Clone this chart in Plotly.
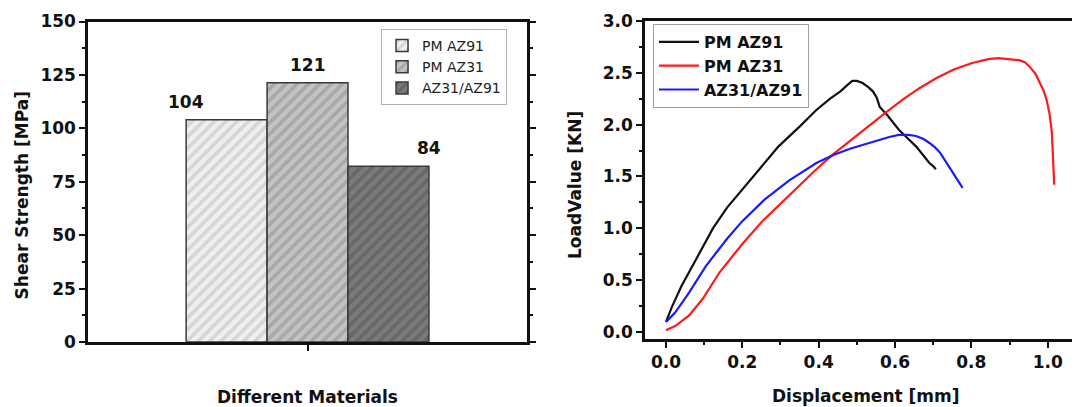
import plotly.graph_objects as go

# ---------------- data ----------------
materials = ["PM AZ91", "PM AZ31", "AZ31/AZ91"]
shear_strength = [104.0, 121.3, 82.2]
shear_labels = ["104", "121", "84"]
category = ["Different Materials"]

az91_x = [0.0, 0.015, 0.04, 0.069, 0.1, 0.123, 0.16, 0.2, 0.25, 0.295, 0.35, 0.394, 0.43,
          0.457, 0.475, 0.488, 0.5, 0.515, 0.53, 0.542, 0.552, 0.56, 0.58, 0.61, 0.635,
          0.655, 0.675, 0.69, 0.7, 0.707]
az91_y = [0.1, 0.24, 0.44, 0.64, 0.85, 1.0, 1.2, 1.375, 1.6, 1.79, 1.98, 2.14, 2.25,
          2.32, 2.38, 2.42, 2.42, 2.40, 2.36, 2.32, 2.26, 2.17, 2.09, 1.95, 1.86,
          1.79, 1.70, 1.63, 1.60, 1.57]

az31_x = [0.0, 0.024, 0.06, 0.096, 0.141, 0.2, 0.25, 0.304, 0.35, 0.394, 0.44, 0.484, 0.53,
          0.574, 0.62, 0.664, 0.71, 0.754, 0.8, 0.844, 0.871, 0.9, 0.925, 0.94, 0.952,
          0.968, 0.98, 0.99, 0.997, 1.005, 1.011, 1.015, 1.017]
az31_y = [0.02, 0.06, 0.16, 0.32, 0.58, 0.85, 1.06, 1.25, 1.42, 1.57, 1.72, 1.85, 1.98,
          2.11, 2.24, 2.35, 2.45, 2.53, 2.59, 2.63, 2.64, 2.63, 2.62, 2.60, 2.56,
          2.49, 2.40, 2.32, 2.24, 2.10, 1.92, 1.66, 1.42]

mix_x = [0.0, 0.024, 0.06, 0.105, 0.16, 0.2, 0.259, 0.322, 0.394, 0.44, 0.484, 0.52, 0.556,
         0.585, 0.61, 0.635, 0.655, 0.675, 0.691, 0.705, 0.718, 0.732, 0.745, 0.762, 0.777]
mix_y = [0.1, 0.19, 0.38, 0.64, 0.9, 1.07, 1.28, 1.46, 1.63, 1.71, 1.77, 1.81, 1.85,
         1.88, 1.90, 1.90, 1.89, 1.86, 1.82, 1.78, 1.73, 1.65, 1.57, 1.48, 1.39]

curve_names = ["PM AZ91", "PM AZ31", "AZ31/AZ91"]

# ---------------- styles ----------------
FONT = "DejaVu Sans"
bar_bg = ["#efefef", "#c3c3c3", "#7a7a7a"]
bar_fg = ["#bcbcbc", "#8e8e8e", "#545454"]
line_colors = ["#111111", "#ff1a1a", "#1a1aff"]
BARGAP = 0.447

fig = go.Figure()

for name, val, bg, fg in zip(materials, shear_strength, bar_bg, bar_fg):
    fig.add_trace(go.Bar(
        x=category, y=[val], name=name, xaxis="x", yaxis="y",
        marker=dict(color=bg, line=dict(color="#3a3a3a", width=1.5),
                    pattern=dict(shape="/", fgcolor=fg, size=8, solidity=0.45)),
        legend="legend",
    ))

for name, xs, ys, c in zip(curve_names, [az91_x, az31_x, mix_x],
                           [az91_y, az31_y, mix_y], line_colors):
    fig.add_trace(go.Scatter(
        x=xs, y=ys, name=name, mode="lines", xaxis="x2", yaxis="y2",
        line=dict(color=c, width=2.2), legend="legend2",
    ))

# bar value labels (positioned relative to bar geometry)
w = (1 - BARGAP) / len(materials)
label_x = [-1.5 * w, 0.0, 1.5 * w]
annotations = []
for lx, val, txt in zip(label_x, shear_strength, shear_labels):
    annotations.append(dict(
        x=lx, y=val + 8.5, xref="x", yref="y", text=txt, showarrow=False,
        xanchor="center", yanchor="middle",
        font=dict(family=FONT, size=17, color="#111", weight="bold")))

title_font = dict(family=FONT, size=17, color="#111", weight="bold")
annotations += [
    dict(x=0.0133, y=0.5405, xref="paper", yref="paper", text="Shear Strength [MPa]",
         textangle=-90, showarrow=False, font=title_font, xanchor="center", yanchor="middle"),
    dict(x=0.2769, y=0.0442, xref="paper", yref="paper", text="Different Materials",
         showarrow=False, font=title_font, xanchor="center", yanchor="middle"),
    dict(x=0.525, y=0.5651, xref="paper", yref="paper", text="LoadValue [KN]",
         textangle=-90, showarrow=False, font=title_font, xanchor="center", yanchor="middle"),
    dict(x=0.7944, y=0.0467, xref="paper", yref="paper", text="Displacement [mm]",
         showarrow=False, font=title_font, xanchor="center", yanchor="middle"),
]

tick_font = dict(family=FONT, size=17, color="#111", weight="bold")
axis_common = dict(showline=True, linecolor="#111", linewidth=2.5, showgrid=False,
                   zeroline=False, ticks="outside", ticklen=6, tickwidth=2,
                   tickcolor="#111", tickfont=tick_font, automargin=False)

fig.update_layout(
    width=1080, height=407,
    margin=dict(l=0, r=0, t=0, b=0, pad=0, autoexpand=False),
    paper_bgcolor="white", plot_bgcolor="white",
    barmode="group", bargap=BARGAP, bargroupgap=0,
    xaxis=dict(domain=[0.0741, 0.4806], type="category", range=[-0.5, 0.5],
               showticklabels=False, mirror=True, **axis_common),
    yaxis=dict(domain=[0.1794, 0.9668], range=[0, 150], dtick=25, mirror="ticks",
               minor=dict(ticks="outside", ticklen=3, tickwidth=2, dtick=12.5, tickcolor="#111"),
               **axis_common),
    xaxis2=dict(domain=[0.5898, 1.0], range=[-0.055, 1.1056], dtick=0.2, tick0=0,
                tickformat=".1f", anchor="y2", mirror=True,
                minor=dict(ticks="outside", ticklen=3, tickwidth=2, dtick=0.1, tickcolor="#111"),
                **axis_common),
    yaxis2=dict(domain=[0.1867, 0.9688], range=[-0.065, 3.0], dtick=0.5, tick0=0,
                tickformat=".1f", anchor="x2",
                minor=dict(ticks="outside", ticklen=3, tickwidth=2, dtick=0.25, tickcolor="#111"),
                **axis_common),
    legend=dict(x=0.3454, y=0.9484, xanchor="left", yanchor="top",
                bgcolor="white", bordercolor="#b0b0b0", borderwidth=1,
                font=dict(family=FONT, size=14, color="#222"), tracegroupgap=0),
    legend2=dict(x=0.5972, y=0.9607, xanchor="left", yanchor="top",
                 bgcolor="white", bordercolor="#a0a0a0", borderwidth=1,
                 font=dict(family=FONT, size=16, color="#111", weight="bold"),
                 tracegroupgap=0, itemwidth=40),
    annotations=annotations,
    showlegend=True,
)

fig.write_html("out.html")
